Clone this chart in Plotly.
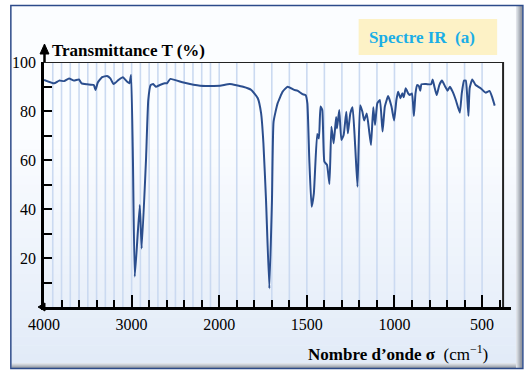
import plotly.graph_objects as go

# ---- data (wavenumber in cm-1, transmittance in %) ----
sigma = [4000, 3884, 3827, 3770, 3714, 3658, 3601, 3571, 3507, 3432, 3412, 3386,
         3337, 3280, 3243, 3206, 3149, 3100, 3047, 3025, 3006, 2985, 2964, 2907,
         2885, 2836, 2810, 2783, 2754, 2723, 2678, 2622, 2596, 2558, 2407, 2218,
         1996, 1940, 1864, 1817, 1780, 1761, 1748, 1733, 1714, 1699, 1690, 1667,
         1638, 1610, 1572, 1554, 1525, 1507, 1497, 1486, 1473, 1460, 1441, 1431,
         1422, 1412, 1400, 1385, 1371, 1360, 1347, 1333, 1328, 1315, 1303, 1290,
         1275, 1266, 1252, 1239, 1224, 1211, 1196, 1183, 1173, 1158, 1145, 1134,
         1121, 1111, 1098, 1083, 1068, 1055, 1036, 1017, 1002, 989, 979, 966,
         955, 947, 936, 922, 913, 900, 889, 880, 870, 861, 853, 846,
         820, 791, 782, 772, 759, 744, 729, 710, 697, 684, 668, 650,
         627, 616, 603, 593, 586, 578, 571, 556, 537, 508, 480, 458,
         443, 428]
transmittance = [92.7, 91.3, 92.4, 92.2, 93.3, 92.4, 92.9, 91.3, 90.9, 90.6, 88.6, 91.6,
                 93.8, 94.3, 93.3, 91.0, 92.7, 93.8, 91.8, 91.3, 94.7, 60.0, 12.4, 41.6,
                 23.9, 60.0, 84.5, 90.6, 91.0, 89.9, 90.6, 91.3, 91.3, 93.1, 91.6, 90.3,
                 90.3, 91.0, 89.9, 88.6, 85.2, 79.0, 67.0, 43.7, 7.6, 43.7, 75.6, 83.1,
                 87.9, 89.9, 88.6, 88.3, 86.9, 86.5, 83.1, 60.0, 40.9, 46.4, 70.6, 68.8,
                 81.8, 80.4, 59.3, 58.0, 50.2, 73.6, 66.8, 77.6, 72.9, 80.4, 68.2, 70.2,
                 79.7, 70.9, 79.0, 81.5, 65.4, 49.1, 82.4, 79.7, 76.1, 79.0, 72.2, 66.1,
                 81.5, 74.3, 83.1, 84.5, 71.6, 81.8, 86.1, 81.8, 76.1, 84.5, 87.9, 85.2,
                 87.2, 85.6, 89.3, 87.2, 86.5, 87.2, 78.0, 87.2, 90.6, 90.2, 88.3, 90.9,
                 91.0, 90.9, 92.9, 89.9, 86.5, 90.6, 92.4, 89.9, 88.3, 89.9, 87.9, 84.5,
                 79.3, 87.2, 92.4, 92.4, 87.2, 78.0, 89.3, 92.9, 90.6, 89.3, 87.5, 88.2,
                 85.8, 82.2]

x_tick_sigma = [4000, 3000, 2000, 1500, 1000, 500]
x_tick_labels = ["4000", "3000", "2000", "1500", "1000", "500"]
x_minor_sigma = [3800, 3600, 3400, 3200, 2800, 2600, 2400, 2200, 1900, 1800, 1700, 1600,
                 1400, 1300, 1200, 1100, 900, 800, 700, 600, 400]
y_tick_vals = [20, 40, 60, 80, 100]
y_tick_labels = ["20", "40", "60", "80", "100"]
y_minor_vals = [10, 30, 50, 70, 90]

title_text = "Spectre IR\u00a0 (a)"
y_title = "Transmittance T (%)"
x_title = "Nombre d’onde σ"


# piecewise scale of the spectrometer chart (expanded below 2000 cm-1)
def u_of(s):
    return (4000 - s) / 1000 if s >= 2000 else 2 + (2000 - s) / 500


W, H = 529, 375
L, R, T, B = 39, 18, 62, 68
PW, PH = W - L - R, H - T - B
XMAX = 5.33


def P(px, py):
    return (px - L) / PW, (H - B - py) / PH


FONT = "Liberation Serif, Times New Roman, serif"
shapes = []

# card background gradient
top_c = (251, 253, 255)
bot_c = (226, 235, 248)
n = 40
y0, y1 = 6, 363
for i in range(n):
    ya = y0 + (y1 - y0) * i / n
    yb = y0 + (y1 - y0) * (i + 1) / n + 0.5
    t = max(0.0, (i / (n - 1) - 0.35) / 0.65)
    c = tuple(round(top_c[k] + (bot_c[k] - top_c[k]) * t) for k in range(3))
    xa, ya_ = P(6, ya)
    xb, yb_ = P(516, yb)
    shapes.append(dict(type="rect", xref="paper", yref="paper", x0=xa, x1=xb, y0=ya_, y1=yb_,
                       fillcolor="rgb(%d,%d,%d)" % c, line=dict(width=0), layer="below"))
# right / bottom bevel
greys = ["#dfe3e9", "#cfd4db", "#bcc2ca", "#a9afb8", "#969ca6", "#858b95"]
for i, g in enumerate(greys):
    xa, ya_ = P(516 + i, 6)
    xb, yb_ = P(517 + i, 368)
    shapes.append(dict(type="rect", xref="paper", yref="paper", x0=xa, x1=xb, y0=ya_, y1=yb_,
                       fillcolor=g, line=dict(width=0), layer="below"))
for i, g in enumerate(greys[:5]):
    xa, ya_ = P(6, 363 + i)
    xb, yb_ = P(516, 364 + i)
    shapes.append(dict(type="rect", xref="paper", yref="paper", x0=xa, x1=xb, y0=ya_, y1=yb_,
                       fillcolor=g, line=dict(width=0), layer="below"))
# card border
xa, ya_ = P(5.5, 5.5)
xb, yb_ = P(523, 368.5)
shapes.append(dict(type="rect", xref="paper", yref="paper", x0=xa, x1=xb, y0=ya_, y1=yb_,
                   fillcolor="rgba(0,0,0,0)", line=dict(color="#2d4b8a", width=1.5), layer="below"))

# label box
xa, ya_ = P(357, 19)
xb, yb_ = P(497, 55)
shapes.append(dict(type="rect", xref="paper", yref="paper", x0=xa, x1=xb, y0=ya_, y1=yb_,
                   fillcolor="#fdf2c6", line=dict(width=0), layer="below"))

# vertical grid lines every 100 cm-1
for s in range(3900, 499, -100):
    shapes.append(dict(type="line", xref="x", yref="y", x0=u_of(s), x1=u_of(s), y0=0, y1=100,
                       line=dict(color="#cbdaf1", width=1.6), layer="below"))

# frame top and right
u_end = (503 - L) / PW * XMAX
shapes.append(dict(type="line", xref="x", yref="y", x0=0, x1=u_end, y0=100, y1=100,
                   line=dict(color="#222222", width=2)))
shapes.append(dict(type="line", xref="x", yref="y", x0=u_end, x1=u_end, y0=0, y1=100,
                   line=dict(color="#222222", width=2)))

# y-axis arrow
xa, ya_ = P(39.5, 62)
xb, yb_ = P(39.5, 52)
shapes.append(dict(type="line", xref="paper", yref="paper", x0=xa, x1=xb, y0=ya_, y1=yb_,
                   line=dict(color="black", width=2.5)))
p1, p2, p3 = P(39.5, 44), P(35, 54), P(44, 54)
shapes.append(dict(type="path", xref="paper", yref="paper",
                   path="M %f,%f L %f,%f L %f,%f Z" % (p1[0], p1[1], p2[0], p2[1], p3[0], p3[1]),
                   fillcolor="black", line=dict(color="black", width=1)))
# x-axis left arrow
p1, p2, p3 = P(33, 307), P(40, 303), P(40, 311)
shapes.append(dict(type="path", xref="paper", yref="paper",
                   path="M %f,%f L %f,%f L %f,%f Z" % (p1[0], p1[1], p2[0], p2[1], p3[0], p3[1]),
                   fillcolor="black", line=dict(color="black", width=1)))

fig = go.Figure(go.Scatter(
    x=[u_of(s) for s in sigma], y=transmittance, mode="lines",
    line=dict(color="#2b4e8e", width=2, shape="spline", smoothing=0.4),
    hoverinfo="skip", showlegend=False))

annotations = []
ax, ay = P(421, 37)
annotations.append(dict(xref="paper", yref="paper", x=ax, y=ay, xanchor="center", yanchor="middle",
                        text="<b>%s</b>" % title_text, showarrow=False,
                        font=dict(family=FONT, size=17, color="#1aaee6")))
ax, ay = P(45, 51)
annotations.append(dict(xref="paper", yref="paper", x=ax, y=ay, xanchor="left", yanchor="middle",
                        text="<b>%s</b>" % y_title, showarrow=False,
                        font=dict(family=FONT, size=17, color="black")))
ax, ay = P(490, 353)
annotations.append(dict(xref="paper", yref="paper", x=ax, y=ay, xanchor="right", yanchor="middle",
                        text="<b>%s</b>\u00a0 (cm<sup>−1</sup>)" % x_title, showarrow=False,
                        font=dict(family=FONT, size=17, color="black")))

fig.update_layout(
    width=W, height=H,
    margin=dict(l=L, r=R, t=T, b=B, pad=0),
    paper_bgcolor="white", plot_bgcolor="rgba(0,0,0,0)",
    font=dict(family=FONT, size=16, color="black"),
    shapes=shapes, annotations=annotations,
    xaxis=dict(range=[0, XMAX], showgrid=False, zeroline=False,
               showline=True, linecolor="black", linewidth=2.5,
               tickmode="array", tickvals=[u_of(s) for s in x_tick_sigma], ticktext=x_tick_labels,
               ticks="inside", ticklen=12, tickwidth=2, tickcolor="black",
               tickfont=dict(family=FONT, size=16, color="black"), ticklabelstandoff=1,
               minor=dict(tickmode="array", tickvals=[u_of(s) for s in x_minor_sigma],
                          ticks="inside", ticklen=7, tickwidth=2, tickcolor="black", showgrid=False)),
    yaxis=dict(range=[0, 100], showgrid=False, zeroline=False,
               showline=True, linecolor="black", linewidth=2.5,
               tickmode="array", tickvals=y_tick_vals, ticktext=y_tick_labels,
               ticks="inside", ticklen=8, tickwidth=2, tickcolor="black",
               tickfont=dict(family=FONT, size=16, color="black"), ticklabelstandoff=2,
               minor=dict(tickmode="array", tickvals=y_minor_vals,
                          ticks="inside", ticklen=8, tickwidth=2, tickcolor="black", showgrid=False)),
)

fig.write_html("out.html", config={"displayModeBar": False},
               post_script="document.body.style.margin='0';document.body.style.overflow='hidden';")
